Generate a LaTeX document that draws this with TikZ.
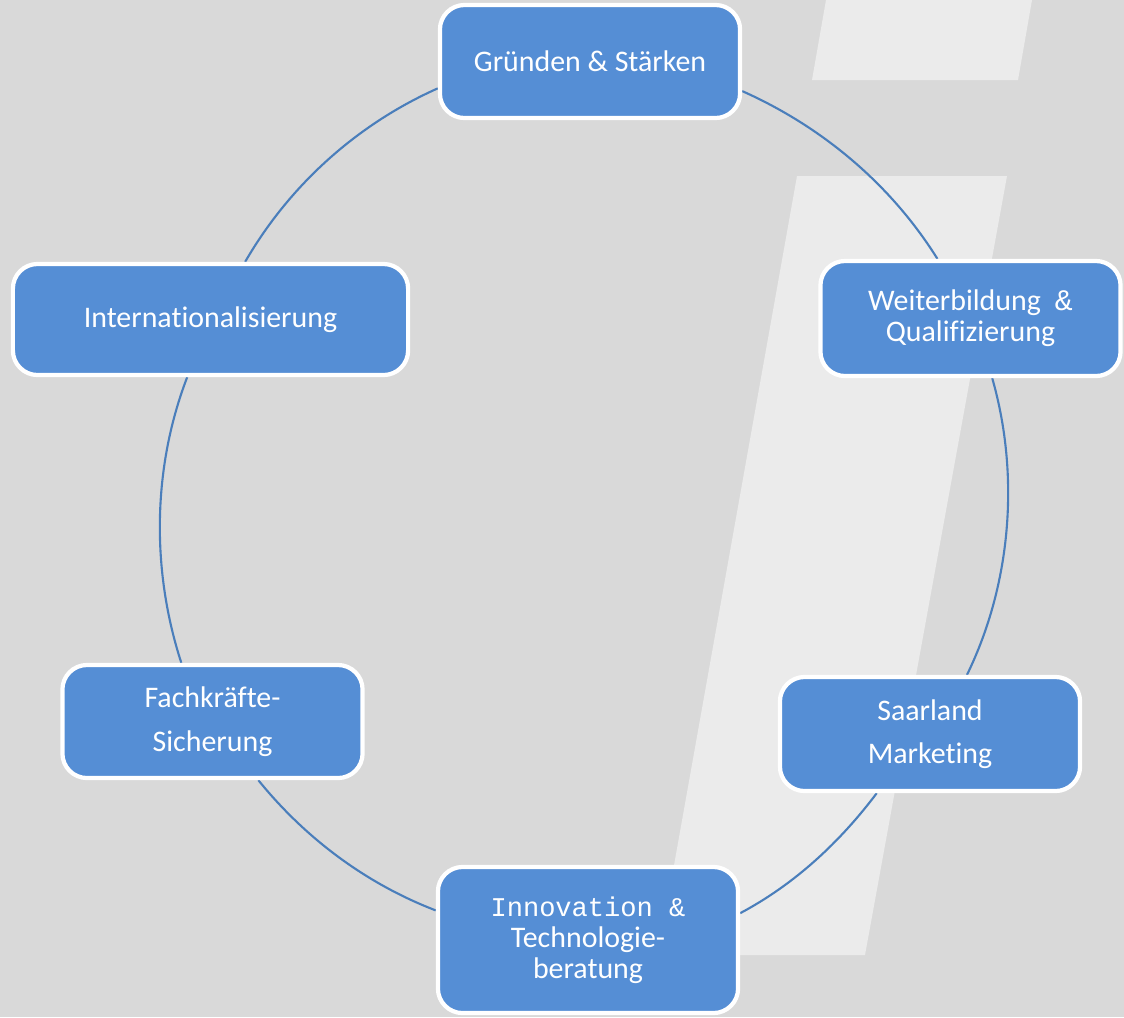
\documentclass[tikz,border=0pt]{standalone}
\usepackage{fontspec}
\setmainfont{Carlito}[Ligatures=NoCommon]
\newfontfamily\monofont{Liberation Mono}
\usetikzlibrary{backgrounds}

\definecolor{bggray}{HTML}{D9D9D9}
\definecolor{stripe}{HTML}{EBEBEB}
\definecolor{boxblue}{HTML}{558ED5}
\definecolor{ringblue}{HTML}{4A7EBB}

\tikzset{ box/.style={draw=white, line width=1.2pt, fill=boxblue, rounded corners=7pt,
                      text=white, align=center, inner sep=0pt,
                      minimum width=3cm, minimum height=1.13cm,
                      font=\fontsize{8.5}{8.8}\selectfont} }

\begin{document}
\begin{tikzpicture}[x=0.01cm, y=-0.01cm,
                    every edge/.style={draw, ringblue, line width=0.6pt, looseness=0.87}]
        \path[use as bounding box] (0,0) rectangle (1124,1017);
        \begin{scope}[on background layer]
            \fill[bggray] (0,0) rectangle (1124,1017);
            \fill[stripe] (826,0) -- (1032,0) -- (1018,80) -- (812,80) -- cycle;
            \fill[stripe] (797,176) -- (1007,176) -- (865,955) -- (658,955) -- cycle;
        \end{scope}

        \node[box] (gruenden) at (590,61.5) {Gründen \& Stärken};
        \node[box, minimum width=3.95cm, minimum height=1.11cm] (intern) at (210.5,319.5) {Internationalisierung};
        \node[box, minimum height=1.15cm] (weiter) at (970.5,318.5) {Weiterbildung\hspace{4pt}{\monofont\&}\\Qualifizierung};
        \node[box] (fach) at (212.5,721.5) {Fachkräfte-\\[3.6pt]Sicherung};
        \node[box, minimum height=1.14cm] (saar) at (930,734) {Saarland\\[3.6pt]Marketing};
        \node[box, minimum height=1.46cm] (innov) at (588,940) {{\monofont\fontsize{7.7}{8.8}\selectfont Innovation \&}\\Technologie-\\beratung};

        \begin{scope}[on background layer]
            \path (gruenden.190) edge[out=204, in=60] (intern.59)
                  (intern.248) edge[out=249, in=108] (fach.118)
                  (fach.308) edge[out=-51, in=159] (innov.169)
                  (innov.10) edge[out=28, in=233] (saar.228)
                  (saar.58) edge[out=64, in=286] (weiter.290)
                  (weiter.119) edge[out=122, in=336] (gruenden.349);
        \end{scope}
    \end{tikzpicture}
\end{document}
